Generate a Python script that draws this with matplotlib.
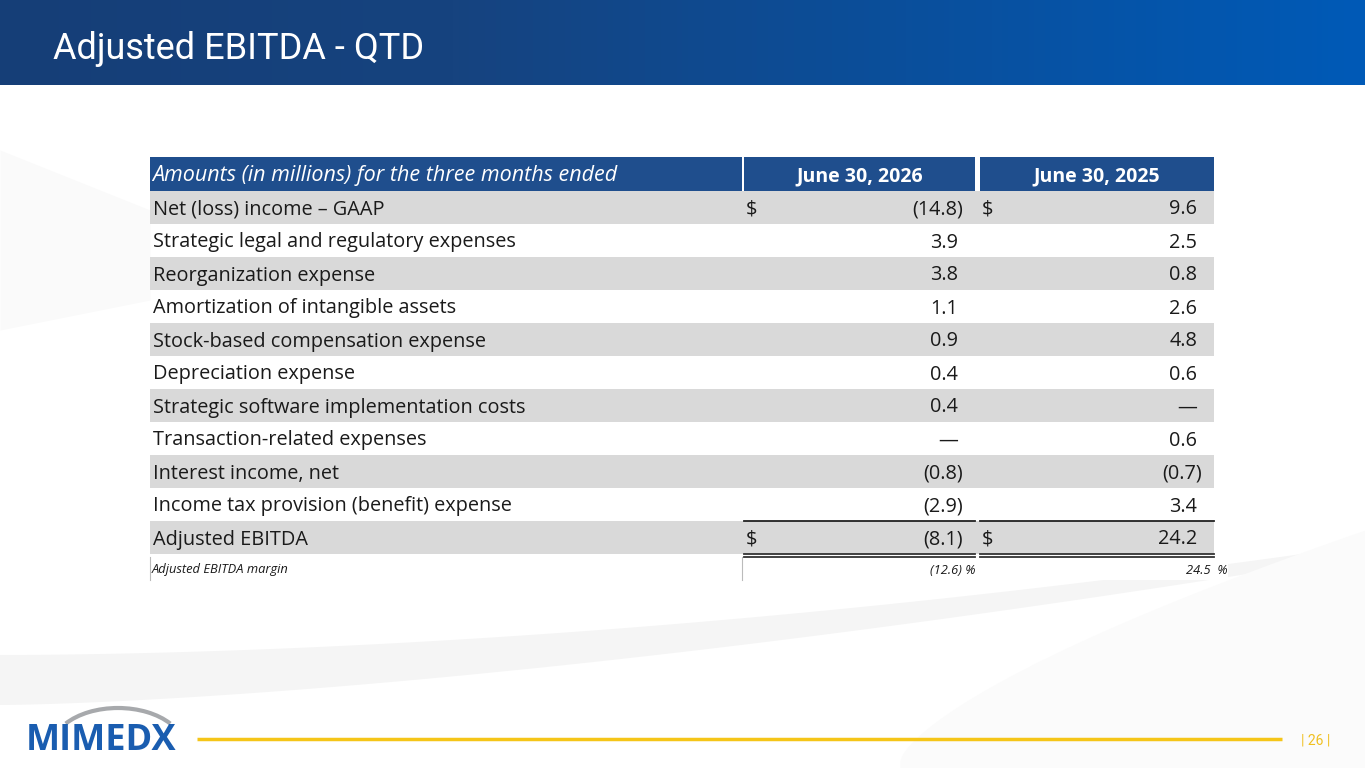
import matplotlib
matplotlib.use("Agg")
import matplotlib.pyplot as plt
import numpy as np
from matplotlib.patches import Rectangle, Arc
from matplotlib.colors import LinearSegmentedColormap

# ---------------- data ----------------
title = "Adjusted EBITDA - QTD"
header_label = "Amounts (in millions) for the three months ended"
periods = ["June 30, 2026", "June 30, 2025"]
row_labels = [
    "Net (loss) income \u2013 GAAP",
    "Strategic legal and regulatory expenses",
    "Reorganization expense",
    "Amortization of intangible assets",
    "Stock-based compensation expense",
    "Depreciation expense",
    "Strategic software implementation costs",
    "Transaction-related expenses",
    "Interest income, net",
    "Income tax provision (benefit) expense",
    "Adjusted EBITDA",
]
values_2026 = [-14.8, 3.9, 3.8, 1.1, 0.9, 0.4, 0.4, None, -0.8, -2.9, -8.1]
values_2025 = [9.6, 2.5, 0.8, 2.6, 4.8, 0.6, None, 0.6, -0.7, 3.4, 24.2]
margin_label = "Adjusted EBITDA margin"
margin_2026 = -12.6
margin_2025 = 24.5
page_number = "| 26 |"
logo_text = "MIMEDX"

# ---------------- styles ----------------
W, H = 1365, 768
FONT = "Open Sans"
HDR_BLUE = "#1f4e8d"
GRAY = "#d9d9d9"
TXT = "#1a1a1a"

fig = plt.figure(figsize=(W / 100, H / 100), dpi=100)
ax = fig.add_axes([0, 0, 1, 1])
ax.set_xlim(0, W)
ax.set_ylim(H, 0)
ax.axis("off")

# subtle background swooshes (decorative)
xs = np.linspace(0, W, 400)
top1 = 655 - 110 * (xs / W) ** 1.8
bot1 = 705 - 150 * (xs / W) ** 1.5
ax.fill_between(xs, top1, bot1, where=bot1 > top1, color="#f5f5f5", zorder=0, lw=0)
xr = np.linspace(900, W, 200)
top2 = 760 - 230 * ((xr - 900) / (W - 900)) ** 0.7
ax.fill_between(xr, top2, 768, color="#fbfbfb", zorder=0, lw=0)
xl = np.linspace(0, 150, 100)
ax.fill_between(xl, 150 + 0.4 * xl, 330 - 0.2 * xl, color="#fafafa", zorder=0, lw=0)

# banner gradient
grad = np.linspace(0, 1, 256)[None, :]
cmap = LinearSegmentedColormap.from_list("ban", ["#153e77", "#16437f", "#0a4f9c", "#005ab7"])
ax.imshow(grad, extent=[0, W, 85, 0], cmap=cmap, aspect="auto", zorder=1)
ax.text(53, 49, title, color="white", fontsize=26, family="Roboto", va="center", ha="left", zorder=2)

# table geometry
x0, x1 = 150, 742
c2a, c2b = 744, 975
c3a, c3b = 980, 1214
hdr_top, hdr_bot = 157, 191
row_h = 33

# header
ax.add_patch(Rectangle((x0, hdr_top), x1 - x0, hdr_bot - hdr_top, color=HDR_BLUE, lw=0, zorder=2))
ax.add_patch(Rectangle((c2a, hdr_top), c2b - c2a, hdr_bot - hdr_top, color=HDR_BLUE, lw=0, zorder=2))
ax.add_patch(Rectangle((c3a, hdr_top), c3b - c3a, hdr_bot - hdr_top, color=HDR_BLUE, lw=0, zorder=2))
hy = (hdr_top + hdr_bot) / 2 + 2
ax.text(x0 + 2, hy, header_label, color="white", fontsize=15.5, style="italic", family=FONT,
        va="center", ha="left", zorder=3)
ax.text((c2a + c2b) / 2, hy, periods[0], color="white", fontsize=14, weight="bold", family=FONT,
        va="center", ha="center", zorder=3)
ax.text((c3a + c3b) / 2, hy, periods[1], color="white", fontsize=14, weight="bold", family=FONT,
        va="center", ha="center", zorder=3)


def fmt(v):
    if v is None:
        return "\u2014", 0
    if v < 0:
        return f"({abs(v):.1f})", 5
    return f"{v:.1f}", 0


fs = 14.3
for i, lab in enumerate(row_labels):
    top = hdr_bot + i * row_h
    yc = top + row_h / 2 + 2
    if i % 2 == 0:
        ax.add_patch(Rectangle((x0, top), c3b - x0, row_h, color=GRAY, lw=0, zorder=1.5))
    ax.text(x0 + 3, yc, lab, fontsize=fs, family=FONT, color=TXT, va="center", ha="left", zorder=3)
    for vals, (ca, cb) in ((values_2026, (c2a, c2b)), (values_2025, (c3a, c3b))):
        s, off = fmt(vals[i])
        ax.text(cb - 17 + off, yc, s, fontsize=fs, family=FONT, color=TXT, va="center", ha="right", zorder=3)
        if i == 0 or i == len(row_labels) - 1:
            ax.text(ca + 2, yc, "$", fontsize=fs, family=FONT, color=TXT, va="center", ha="left", zorder=3)

# total lines
tot_top = hdr_bot + (len(row_labels) - 1) * row_h
tot_bot = tot_top + row_h
for ca, cb in ((c2a, c2b), (c3a, c3b)):
    ax.plot([ca, cb], [tot_top, tot_top], color="#222222", lw=1.3, zorder=4)
    ax.plot([ca, cb], [tot_bot, tot_bot], color="#333333", lw=1.3, zorder=4)
    ax.plot([ca, cb], [tot_bot + 3, tot_bot + 3], color="#333333", lw=1.3, zorder=4)

# margin row
m_top, m_bot = tot_bot + 3, 580
ax.add_patch(Rectangle((x0, m_top), c3b + 14 - x0, m_bot - m_top, color="white", lw=0, zorder=1.2))
my = (tot_bot + m_bot) / 2 + 3
ax.plot([x0, x0], [m_top, m_bot], color="#bbbbbb", lw=0.8, zorder=3)
ax.plot([x1, x1], [m_top, m_bot], color="#bbbbbb", lw=0.8, zorder=3)
ax.text(x0 + 2, my, margin_label, fontsize=9.3, style="italic", family=FONT, color=TXT, va="center", ha="left", zorder=3)
ax.text(c2b, my, f"({abs(margin_2026):.1f}) %", fontsize=9.3, style="italic", family=FONT, color=TXT,
        va="center", ha="right", zorder=3)
ax.text(c3b + 14, my, f"{margin_2025:.1f}  %", fontsize=9.3, style="italic", family=FONT, color=TXT,
        va="center", ha="right", zorder=3)

# footer
ax.plot([197, 1282], [739, 739], color="#f5c518", lw=2.5, solid_capstyle="butt", zorder=3)
ax.text(1316, 741, page_number, fontsize=10, family="Roboto", color="#f0c020", va="center", ha="center", zorder=3)
ax.add_patch(Arc((118, 748), 132, 80, theta1=205, theta2=335, color="#a7a9ac", lw=3, zorder=3))
ax.text(26, 741, logo_text, fontsize=26, weight="bold", family="Open Sans", color="#1a5db0",
        va="center", ha="left", zorder=4)

fig.savefig("out.png", dpi=100)
